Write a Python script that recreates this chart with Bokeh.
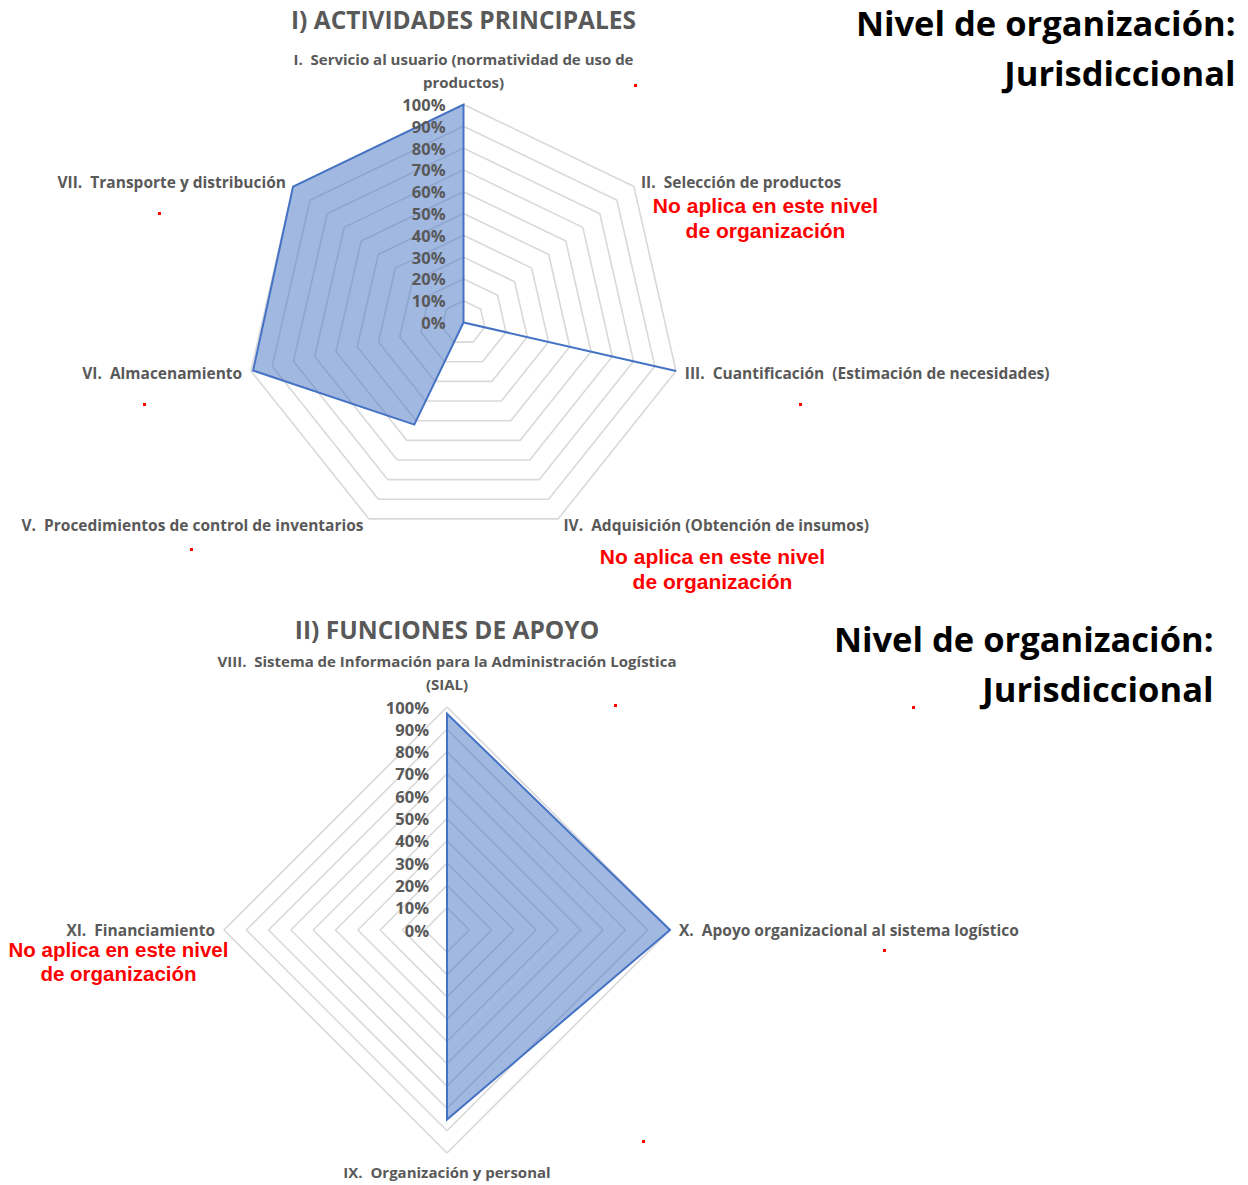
import numpy as np
from bokeh.plotting import figure
from bokeh.models import Range1d
from bokeh.core.properties import value
from bokeh.embed import file_html
from bokeh.resources import INLINE

# ---------------- data ----------------
S = "\u00a0\u00a0"  # double gap after roman numeral
title1 = "I) ACTIVIDADES PRINCIPALES"
cats1 = [
    ["I." + S + "Servicio al usuario (normatividad de uso de", "productos)"],
    ["II." + S + "Selección de productos"],
    ["III." + S + "Cuantificación\u00a0\u00a0(Estimación de necesidades)"],
    ["IV." + S + "Adquisición (Obtención de insumos)"],
    ["V." + S + "Procedimientos de control de inventarios"],
    ["VI." + S + "Almacenamiento"],
    ["VII." + S + "Transporte y distribución"],
]
vals1 = [1.00, 0.00, 1.00, 0.00, 0.52, 0.99, 1.00]

title2 = "II) FUNCIONES DE APOYO"
cats2 = [
    ["VIII." + S + "Sistema de Información para la Administración Logística", "(SIAL)"],
    ["X." + S + "Apoyo organizacional al sistema logístico"],
    ["IX." + S + "Organización y personal"],
    ["XI." + S + "Financiamiento"],
]
vals2 = [0.97, 1.00, 0.85, 0.00]

ticks = [0.0, 0.1, 0.2, 0.3, 0.4, 0.5, 0.6, 0.7, 0.8, 0.9, 1.0]
tick_labels = ["0%", "10%", "20%", "30%", "40%", "50%", "60%", "70%", "80%", "90%", "100%"]

level_text = ["Nivel de organización:", "Jurisdiccional"]
note_text = ["No aplica en este nivel", "de organización"]

# layout (page pixel coordinates)
C1, R1 = (463.0, 322.0), 218.0
C2, R2 = (446.5, 929.5), 223.0

GRAY = "#595959"
GRID = "#d9d9d9"
BLUE = "#4472C4"
FONT = value("Open Sans")
W, H = 1240, 1185

p = figure(width=W, height=H, x_range=Range1d(0, W), y_range=Range1d(H, 0),
           output_backend="svg", toolbar_location=None, min_border=0,
           x_axis_location=None, y_axis_location=None, outline_line_color=None)
p.xgrid.visible = False
p.ygrid.visible = False
p.background_fill_color = "white"


def txt(x, y, s, size, color=GRAY, align="left", base="middle", style="bold", font=FONT):
    p.text(x=[x], y=[y], text=[s], text_font=font, text_font_size=f"{size}px",
           text_color=color, text_align=align, text_baseline=base, text_font_style=style)


def radar(center, R, cats, vals, title, title_y):
    cx, cy = center
    n = len(cats)
    ang = np.pi / 2 - np.arange(n) * 2 * np.pi / n
    ca, sa = np.cos(ang), np.sin(ang)
    # grid rings
    xs, ys = [], []
    for t in ticks[1:]:
        xs.append(list(cx + R * t * np.append(ca, ca[0])))
        ys.append(list(cy - R * t * np.append(sa, sa[0])))
    p.multi_line(xs=xs, ys=ys, line_color=GRID, line_width=1.6)
    # data polygon
    v = np.array(vals)
    px = cx + R * v * ca
    py = cy - R * v * sa
    p.patch(x=list(px), y=list(py), fill_color=BLUE, fill_alpha=0.5,
            line_color=BLUE, line_width=2, line_join="miter")
    # tick labels
    for t, lab in zip(ticks, tick_labels):
        txt(cx - 18, cy - R * t, lab, 16.5, align="right")
    # category labels
    for i, lines in enumerate(cats):
        vx, vy = cx + R * ca[i], cy - R * sa[i]
        if abs(ca[i]) < 0.05:
            if sa[i] > 0:
                y0 = vy - 23 - 23 * (len(lines) - 1)
                for k, s in enumerate(lines):
                    txt(vx, y0 + 23 * k, s, 15, align="center")
            else:
                txt(vx, vy + 19, lines[0], 15, align="center")
        else:
            align = "left" if ca[i] > 0 else "right"
            txt(vx + 9 * np.sign(ca[i]) * max(abs(ca[i]), 0.6), vy - 7 * sa[i], lines[0], 15.5, align=align)
    txt(cx, title_y, title, 24.5, align="center")


radar(C1, R1, cats1, vals1, title1, 19)
radar(C2, R2, cats2, vals2, title2, 629)

# level headings
for (x, y0) in [(1235, 22), (1213, 638)]:
    txt(x, y0, level_text[0], 34.5, color="black", align="right")
    txt(x, y0 + 50, level_text[1], 34.5, color="black", align="right")

# "No aplica" notes
RED = "#ff0000"
NOTE_FONT = value("Liberation Sans")
for (x, y0, sz, gap) in [(765, 205, 21, 25), (712, 556, 21, 25), (118, 949, 20.5, 24)]:
    txt(x, y0, note_text[0], sz, color=RED, align="center", font=NOTE_FONT)
    txt(x, y0 + gap, note_text[1], sz, color=RED, align="center", font=NOTE_FONT)

# small red dots present in the original
dot_x = [635, 159, 800, 144, 191, 615, 913, 884, 643]
dot_y = [85, 213, 404, 404, 549, 705, 707, 950, 1141]
p.scatter(x=dot_x, y=dot_y, marker="square", size=3, color=RED, line_width=0)

open("out.html", "w").write(file_html(p, INLINE))
